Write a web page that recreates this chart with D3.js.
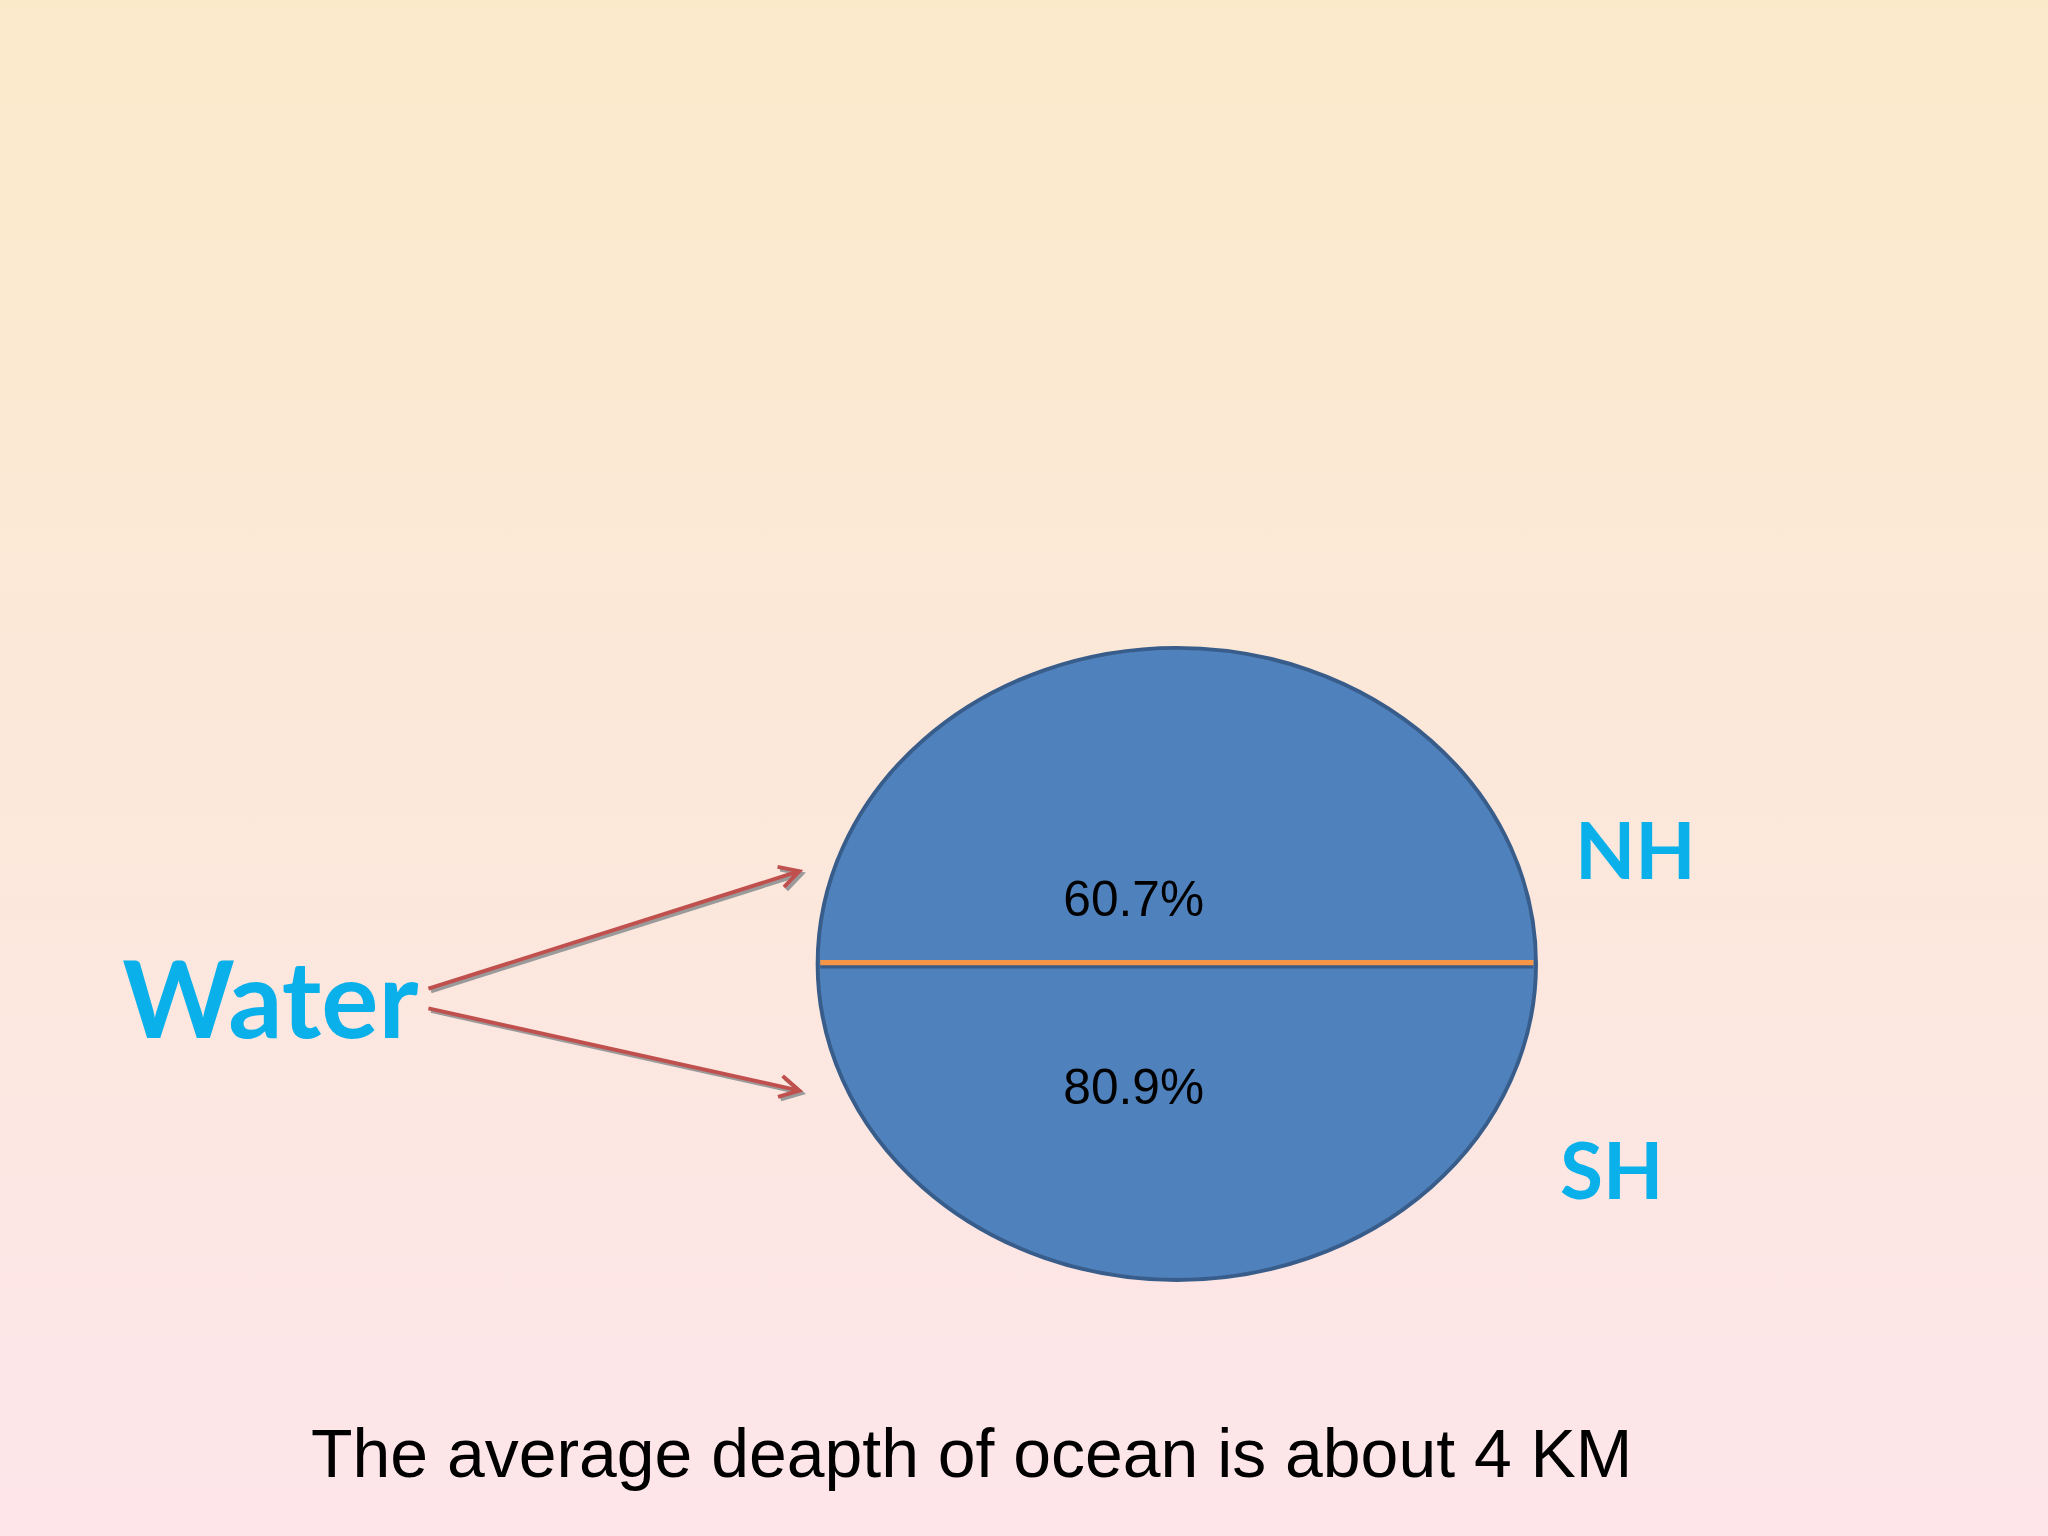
<!DOCTYPE html>
<html><head><meta charset="utf-8">
<script src="https://cdn.jsdelivr.net/npm/d3@7"></script>
<style>html,body{margin:0;padding:0;overflow:hidden}</style>
</head><body>
<script>
const hemispheres = ["NH", "SH"];
const waterPercent = [60.7, 80.9];
const sourceLabel = "Water";
const caption = "The average deapth of ocean is about 4 KM";

const W = 1568, H = 1176;
const svg = d3.select("body").append("svg")
  .attr("width", 2048).attr("height", 1536)
  .attr("viewBox", `0 0 ${W} ${H}`);
const defs = svg.append("defs");
const g = defs.append("linearGradient").attr("id","bg").attr("x1",0).attr("y1",0).attr("x2",0).attr("y2",1);
g.append("stop").attr("offset","0%").attr("stop-color","#FBEACA");
g.append("stop").attr("offset","100%").attr("stop-color","#FDE5EA");
svg.append("rect").attr("width",W).attr("height",H).attr("fill","url(#bg)");

const cx = 901, cy = 738, rx = 275, ry = 242;
const y = d3.scalePoint().domain(hemispheres).range([cy - 53, cy + 91]);

svg.append("ellipse").attr("cx",cx).attr("cy",cy).attr("rx",rx).attr("ry",ry)
  .attr("fill","#4F81BD").attr("stroke","#385D8A").attr("stroke-width",3);
svg.append("line").attr("x1",cx-rx+2).attr("x2",cx+rx-2).attr("y1",cy+2).attr("y2",cy+2)
  .attr("stroke","#385D8A").attr("stroke-width",3);
svg.append("line").attr("x1",cx-rx+2).attr("x2",cx+rx-2).attr("y1",cy-1).attr("y2",cy-1)
  .attr("stroke","#F79646").attr("stroke-width",4);

svg.selectAll("text.pct").data(hemispheres).join("text").attr("class","pct")
  .attr("x",868).attr("y",d=>y(d)+16).attr("text-anchor","middle")
  .attr("font-family","Liberation Sans, Arial").attr("font-size",38).attr("fill","#000")
  .text((d,i)=>waterPercent[i].toFixed(1)+"%");

const hx = {NH:1252, SH:1234}, hy = {NH:673, SH:918};
svg.selectAll("text.hem").data(hemispheres).join("text").attr("class","hem")
  .attr("x",d=>hx[d]).attr("y",d=>hy[d]).attr("text-anchor","middle")
  .attr("font-family","Lato").attr("font-weight","bold").attr("font-size",60).attr("fill","#0AB0EA")
  .text(d=>d);

svg.append("text").attr("x",207).attr("y",795).attr("text-anchor","middle")
  .attr("font-family","Lato").attr("font-weight","bold").attr("font-size",82).attr("fill","#0AB0EA")
  .text(sourceLabel);

const arrows = [[328,757,612,667],[328,772,612,835]];
function arrow(sel, a, color, off){
  const [x1,y1,x2,y2]=a;
  const ang=Math.atan2(y2-y1,x2-x1), L=17;
  const p=d3.path();
  p.moveTo(x1+off,y1+off); p.lineTo(x2+off,y2+off);
  p.moveTo(x2+off-L*Math.cos(ang-0.5),y2+off-L*Math.sin(ang-0.5)); p.lineTo(x2+off,y2+off);
  p.lineTo(x2+off-L*Math.cos(ang+0.5),y2+off-L*Math.sin(ang+0.5));
  sel.append("path").attr("d",p.toString()).attr("fill","none").attr("stroke",color).attr("stroke-width",3);
}
arrows.forEach(a=>arrow(svg,a,"#9a9a9a",2));
arrows.forEach(a=>arrow(svg,a,"#C0504D",0));

svg.append("text").attr("x",744).attr("y",1131).attr("text-anchor","middle")
  .attr("font-family","Liberation Sans, Arial").attr("font-size",52).attr("fill","#000")
  .text(caption);
</script>
</body></html>
